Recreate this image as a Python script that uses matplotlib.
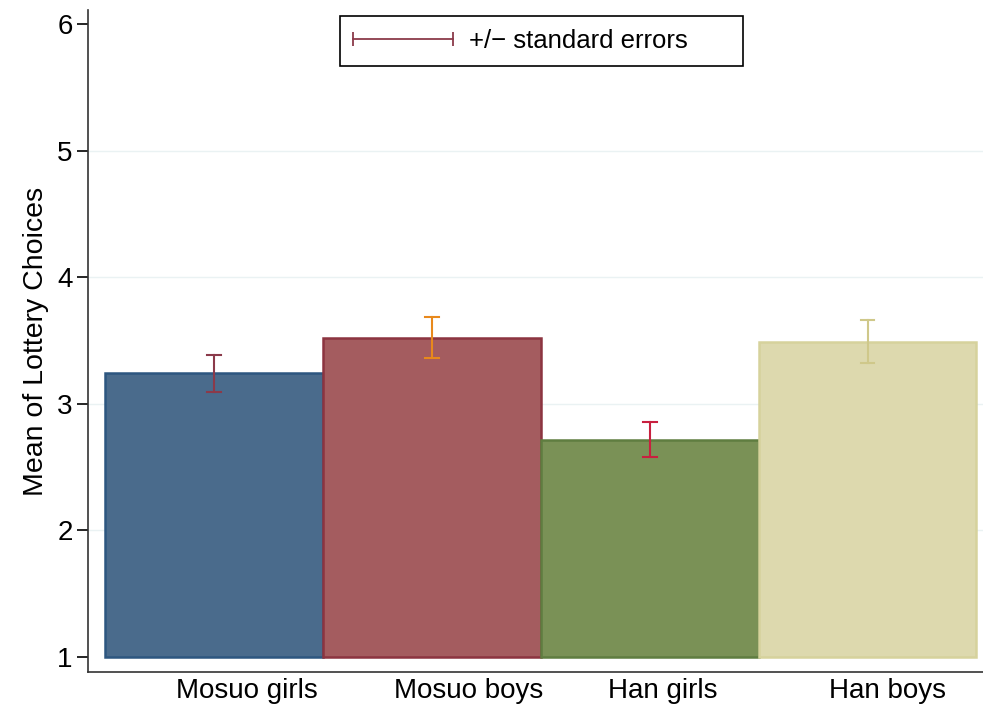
import matplotlib.pyplot as plt
from matplotlib.lines import Line2D
from matplotlib.legend_handler import HandlerLine2D

plt.rcParams['font.family'] = ['Liberation Sans', 'DejaVu Sans']

groups = ['Mosuo girls', 'Mosuo boys', 'Han girls', 'Han boys']
means = [3.24, 3.52, 2.71, 3.49]
se_low = [3.09, 3.36, 2.58, 3.325]
se_high = [3.385, 3.687, 2.856, 3.661]
label_offset = [0.15, 0.17, 0.06, 0.09]

fill_cols = ['#4a6b8c', '#a45c5f', '#7a9156', '#ddd9ae']
edge_cols = ['#2d5680', '#8c3440', '#5f7d40', '#d6d29c']
err_cols = ['#8b3a4a', '#e8891c', '#c8203f', '#cfc88a']

fig = plt.figure(figsize=(9.83, 7.10), dpi=100)
ax = fig.add_axes([0.0895, 0.0535, 0.9105, 0.932])

x = list(range(len(groups)))
base = 1
for i in x:
    ax.bar(i, means[i] - base, bottom=base, width=1.0, color=fill_cols[i],
           edgecolor=edge_cols[i], linewidth=1.8, zorder=2)
    ax.plot([i, i], [se_low[i], se_high[i]], color=err_cols[i], lw=1.5, zorder=3)
    for yv in (se_low[i], se_high[i]):
        ax.plot([i - 0.032, i + 0.032], [yv, yv], color=err_cols[i], lw=1.5, zorder=3)

ax.set_xlim(-0.578, 3.53)
ax.set_ylim(0.88, 6.11)
ax.set_yticks([1, 2, 3, 4, 5, 6])
ax.set_xticks([i + o for i, o in zip(x, label_offset)])
ax.set_xticklabels(groups, fontsize=20)
ax.tick_params(axis='x', length=0, pad=4)
ax.tick_params(axis='y', length=8, width=1.2, labelsize=20, pad=3)
for yv in [2, 3, 4, 5]:
    ax.axhline(yv, color='#eaf2f3', lw=1, zorder=1)

ax.spines['top'].set_visible(False)
ax.spines['right'].set_visible(False)
ax.spines['left'].set_color('#333333')
ax.spines['bottom'].set_color('#333333')
ax.spines['left'].set_linewidth(1.2)
ax.spines['bottom'].set_linewidth(1.2)
ax.set_ylabel('Mean of Lottery Choices', fontsize=20.5, labelpad=6)

handle = Line2D([], [], color='#8b3a4a', lw=1.3, marker='|', markersize=10,
                markeredgewidth=1.3)
leg = ax.legend([handle], ['+/\u2212 standard errors      '], numpoints=2,
                handler_map={Line2D: HandlerLine2D(marker_pad=0)},
                loc='upper center', bbox_to_anchor=(0.507, 0.991),
                fontsize=18.5, handlelength=3.9, handletextpad=0.62,
                fancybox=False, framealpha=1, edgecolor='black',
                borderpad=0.5, borderaxespad=0)
leg.get_frame().set_linewidth(1.2)

fig.savefig('out.png', dpi=100)
